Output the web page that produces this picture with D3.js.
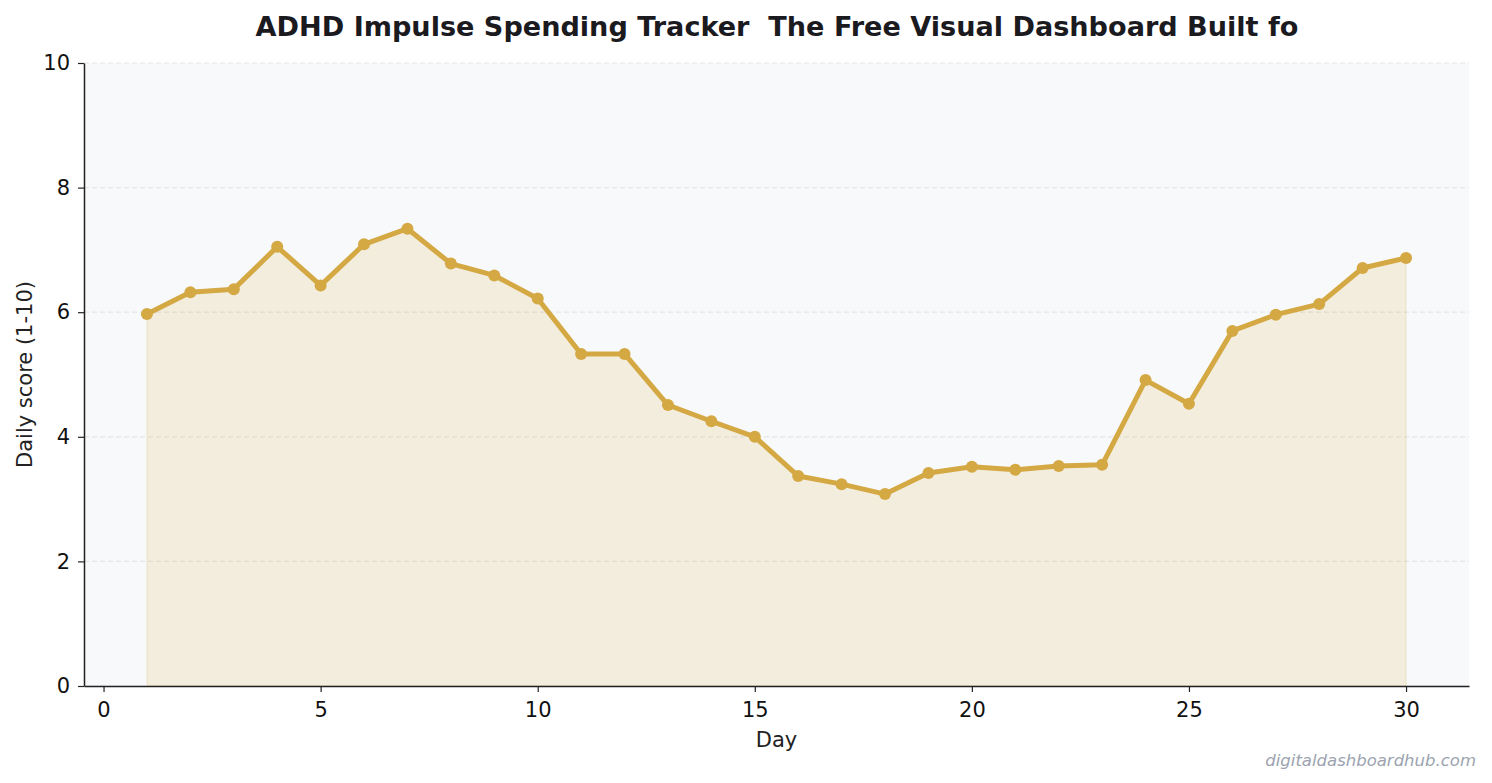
<!DOCTYPE html>
<html>
<head>
<meta charset="utf-8">
<script src="https://cdn.jsdelivr.net/npm/d3@7"></script>
<style>
  body { margin: 0; background: #fff; }
  text { font-family: "DejaVu Sans", sans-serif; }
</style>
</head>
<body>
<div id="chart"></div>
<script>
const days = d3.range(1, 31);
const scores = [5.97, 6.32, 6.37, 7.05, 6.43, 7.09, 7.34, 6.78, 6.59, 6.22,
    5.33, 5.33, 4.51, 4.25, 4.00, 3.37, 3.24, 3.08, 3.42, 3.52,
    3.47, 3.53, 3.55, 4.91, 4.53, 5.70, 5.96, 6.13, 6.71, 6.87];
const xTicks = [0, 5, 10, 15, 20, 25, 30];
const yTicks = [0, 2, 4, 6, 8, 10];
const title = "ADHD Impulse Spending Tracker  The Free Visual Dashboard Built fo";

const W = 1492, H = 783;
const margin = { top: 63, right: 23, bottom: 97, left: 84 };
const width = W - margin.left - margin.right;
const height = H - margin.top - margin.bottom;
const gold = "#d4a843";

const data = days.map((d, i) => ({ day: d, score: scores[i] }));

const svg = d3.select("#chart").append("svg")
    .attr("width", W)
    .attr("height", H);

svg.append("text")
    .attr("x", 777).attr("y", 36)
    .attr("text-anchor", "middle")
    .attr("font-size", 27.1).attr("font-weight", "bold")
    .attr("fill", "#1a1a1f")
    .style("white-space", "pre")
    .text(title);

const g = svg.append("g")
    .attr("transform", "translate(" + margin.left + "," + margin.top + ")");

var x = d3.scaleLinear().domain([-0.45, 31.45]).range([0, width]);
var y = d3.scaleLinear().domain([0, 10]).range([height, 0]);

// plot background
g.append("rect")
    .attr("width", width).attr("height", height)
    .attr("fill", "#f8f9fa");

// grid lines
g.selectAll(".grid")
    .data(yTicks)
    .enter().append("line")
    .attr("x1", 0).attr("x2", width)
    .attr("y1", d => y(d)).attr("y2", d => y(d))
    .attr("stroke", "#e3e5e8")
    .attr("stroke-width", 1.2)
    .attr("stroke-dasharray", "5,3");

// area under the line
g.append("path")
    .datum(data)
    .attr("fill", gold)
    .attr("fill-opacity", 0.15)
    .attr("stroke", gold)
    .attr("stroke-opacity", 0.15)
    .attr("stroke-width", 1.5)
    .attr("d", d3.area()
        .x(d => x(d.day))
        .y0(height)
        .y1(d => y(d.score)));

// line
g.append("path")
    .datum(data)
    .attr("fill", "none")
    .attr("stroke", gold)
    .attr("stroke-width", 5)
    .attr("stroke-linejoin", "round")
    .attr("d", d3.line()
        .x(d => x(d.day))
        .y(d => y(d.score)));

g.selectAll(".pt")
    .data(data)
    .enter().append("circle")
    .attr("cx", d => x(d.day))
    .attr("cy", d => y(d.score))
    .attr("r", 6)
    .attr("fill", gold);

// axes
const xAxis = g.append("g")
    .attr("transform", "translate(0," + height + ")")
    .call(d3.axisBottom(x).tickValues(xTicks).tickSize(6).tickSizeOuter(0).tickPadding(10));
const yAxis = g.append("g")
    .call(d3.axisLeft(y).tickValues(yTicks).tickSize(6).tickSizeOuter(0).tickPadding(8));

[xAxis, yAxis].forEach(a => {
    a.select(".domain").attr("stroke", "#222").attr("stroke-width", 1.5);
    a.selectAll(".tick line").attr("stroke", "#222").attr("stroke-width", 1.2);
    a.selectAll(".tick text")
        .attr("font-family", "DejaVu Sans, sans-serif")
        .attr("font-size", 21).attr("fill", "#111");
});

svg.append("text")
    .attr("x", margin.left + x(15.5)).attr("y", 747)
    .attr("text-anchor", "middle")
    .attr("font-size", 21).attr("fill", "#222")
    .text("Day");

svg.append("text")
    .attr("transform", "translate(32," + (margin.top + height / 2) + ") rotate(-90)")
    .attr("text-anchor", "middle")
    .attr("font-size", 21).attr("fill", "#222")
    .text("Daily score (1-10)");

svg.append("text")
    .attr("x", 1476).attr("y", 766)
    .attr("text-anchor", "end")
    .attr("font-size", 16.5).attr("font-style", "italic")
    .attr("fill", "#9ca3af")
    .text("digitaldashboardhub.com");
</script>
</body>
</html>
